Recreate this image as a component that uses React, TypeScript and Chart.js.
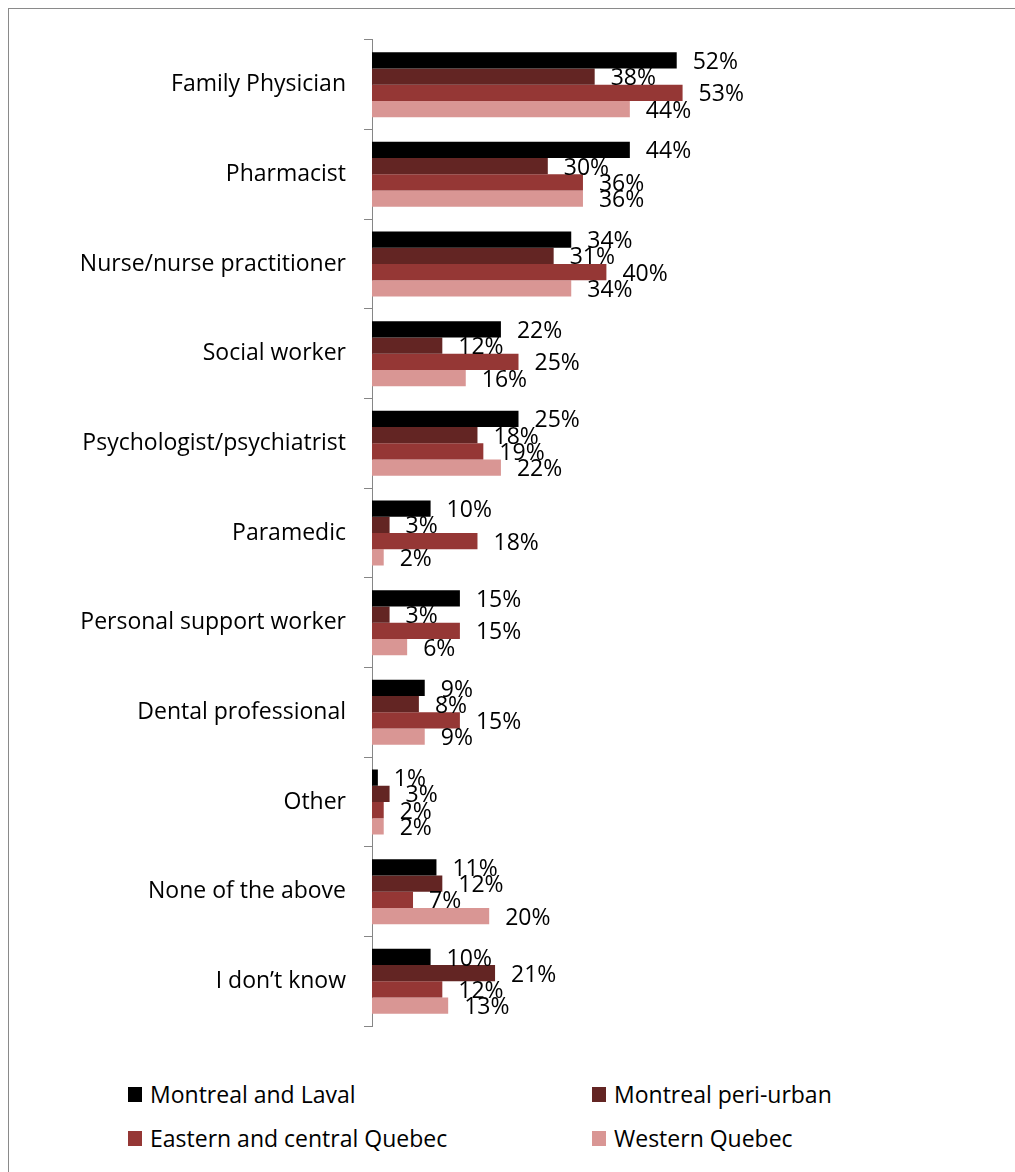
import React, { useEffect, useRef } from "react";
import { Chart, registerables } from "chart.js";

Chart.register(...registerables);

const categories = [
  "Family Physician",
  "Pharmacist",
  "Nurse/nurse practitioner",
  "Social worker",
  "Psychologist/psychiatrist",
  "Paramedic",
  "Personal support worker",
  "Dental professional",
  "Other",
  "None of the above",
  "I don\u2019t know",
];

const seriesNames = [
  "Montreal and Laval",
  "Montreal peri-urban",
  "Eastern and central Quebec",
  "Western Quebec",
];

const montrealLaval = [52, 44, 34, 22, 25, 10, 15, 9, 1, 11, 10];
const montrealPeriUrban = [38, 30, 31, 12, 18, 3, 3, 8, 3, 12, 21];
const easternCentral = [53, 36, 40, 25, 19, 18, 15, 15, 2, 7, 12];
const westernQuebec = [44, 36, 34, 16, 22, 2, 6, 9, 2, 20, 13];

const seriesColors = ["#000000", "#632523", "#953735", "#D99694"];

const FONT = "'Open Sans', Lato, sans-serif";
const FONT_SIZE = 23;

const dataLabelPlugin = {
  id: "dataLabels",
  afterDatasetsDraw(chart: any) {
    const ctx = chart.ctx;
    ctx.save();
    ctx.font = `${FONT_SIZE}px ${FONT}`;
    ctx.fillStyle = "#000000";
    ctx.textAlign = "left";
    ctx.textBaseline = "middle";
    chart.data.datasets.forEach((ds: any, di: number) => {
      const meta = chart.getDatasetMeta(di);
      meta.data.forEach((el: any, i: number) => {
        ctx.fillText(`${ds.data[i]}%`, el.x + 16, el.y + 2);
      });
    });
    ctx.restore();
  },
};

export default function App() {
  const canvasRef = useRef<HTMLCanvasElement | null>(null);

  useEffect(() => {
    if (!canvasRef.current) return;
    const seriesValues = [montrealLaval, montrealPeriUrban, easternCentral, westernQuebec];
    const chart = new Chart(canvasRef.current, {
      type: "bar",
      data: {
        labels: categories,
        datasets: seriesNames.map((name, i) => ({
          label: name,
          data: seriesValues[i],
          backgroundColor: seriesColors[i],
          borderWidth: 0,
          categoryPercentage: 0.725,
          barPercentage: 1,
        })),
      },
      options: {
        indexAxis: "y",
        animation: false,
        responsive: false,
        maintainAspectRatio: false,
        layout: { padding: { top: 31, bottom: 16, left: 0, right: 291.4 } },
        plugins: {
          legend: { display: false },
          tooltip: { enabled: false },
        },
        scales: {
          x: {
            display: false,
            min: 0,
            max: 60,
          },
          y: {
            afterFit(scale: any) {
              scale.width = 364;
            },
            grid: {
              offset: true,
              drawOnChartArea: false,
              drawTicks: true,
              tickLength: 8,
              color: "#868686",
            },
            border: { display: true, color: "#868686", width: 1 },
            ticks: {
              padding: 18,
              color: "#000000",
              font: { family: FONT, size: FONT_SIZE },
            },
          },
        },
      },
      plugins: [dataLabelPlugin],
    });
    return () => chart.destroy();
  }, []);

  const legendPos = [
    { left: 120, top: 1079 },
    { left: 584, top: 1079 },
    { left: 120, top: 1123 },
    { left: 584, top: 1123 },
  ];

  return (
    <div
      style={{
        position: "relative",
        width: 1015,
        height: 1172,
        overflow: "hidden",
        background: "#ffffff",
      }}
    >
      <style>{"html,body{margin:0;padding:0;overflow:hidden;}"}</style>
      <div
        style={{
          position: "absolute",
          left: 8,
          top: 8,
          width: 1040,
          height: 1220,
          border: "1px solid #8a8a8a",
          boxSizing: "border-box",
        }}
      />
      <div style={{ position: "absolute", left: 8, top: 8, width: 1007, height: 1164 }}>
        <canvas
          ref={canvasRef}
          width={1007}
          height={1050}
          style={{ position: "absolute", left: 0, top: 0, width: 1007, height: 1050 }}
        />
        {seriesNames.map((name, i) => (
          <div
            key={name}
            style={{
              position: "absolute",
              left: legendPos[i].left,
              top: legendPos[i].top,
              height: 15,
              display: "flex",
              alignItems: "center",
              fontFamily: FONT,
              fontSize: FONT_SIZE,
              color: "#000",
              whiteSpace: "nowrap",
            }}
          >
            <span
              style={{
                display: "inline-block",
                width: 14,
                height: 15,
                background: seriesColors[i],
                marginRight: 8,
              }}
            />
            <span style={{ lineHeight: "15px" }}>{name}</span>
          </div>
        ))}
      </div>
    </div>
  );
}
